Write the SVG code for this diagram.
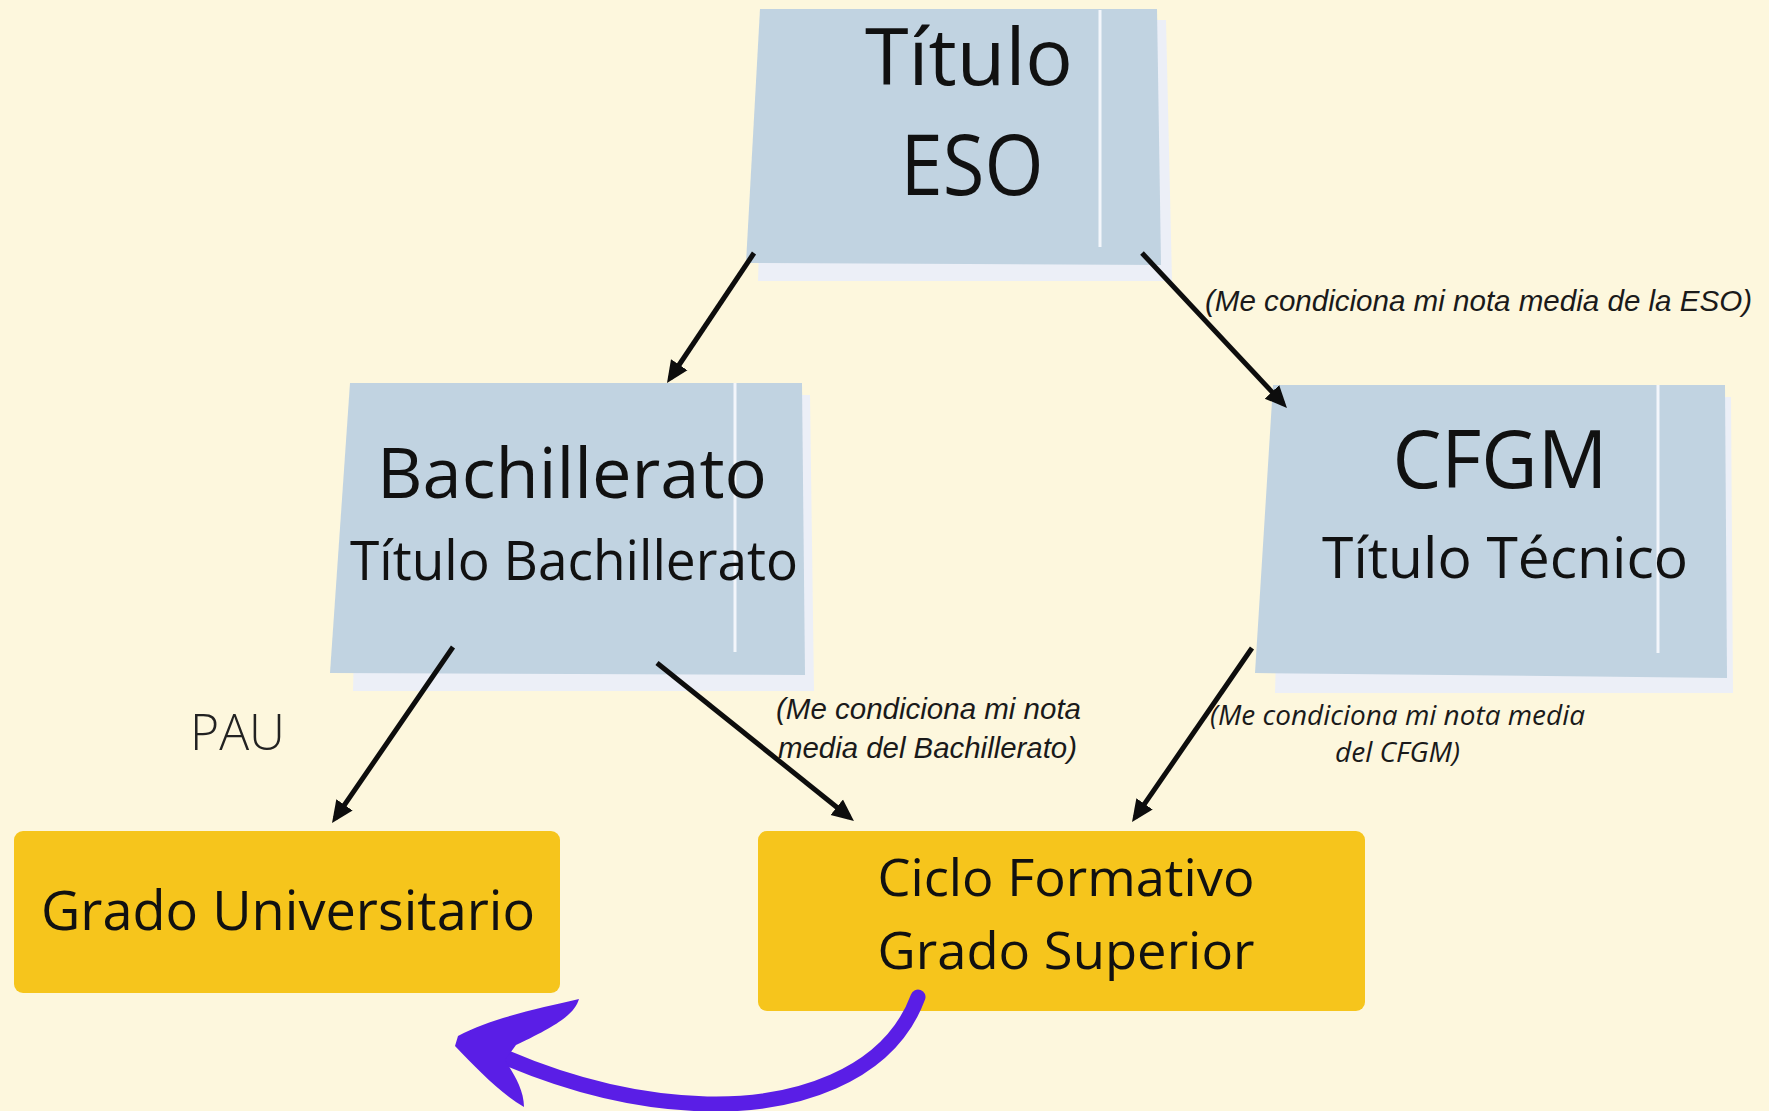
<svg xmlns="http://www.w3.org/2000/svg" width="1769" height="1111" viewBox="0 0 1769 1111">
  <defs>
    <marker id="ah" viewBox="0 0 10 10" refX="7.3" refY="5" markerWidth="22" markerHeight="22" markerUnits="userSpaceOnUse" orient="auto">
      <path d="M0,0.5 L10,5 L0,9.5 Z" fill="#0d0d0d"/>
    </marker>
    <style>
      .bg{fill:#fdf7dd}
      .blue{fill:#c1d3e1}
      .shadow{fill:#eceff7}
      .crease{stroke:#f3f6fb;stroke-width:3;fill:none}
      .yellow{fill:#f6c51c}
      .t{font-family:"Open Sans","Noto Sans",sans-serif;fill:#111;text-anchor:middle}
      .lbl{font-family:"Liberation Sans",Arial,sans-serif;font-style:italic;fill:#1a1a1a;font-size:29px}
      .lbl2{font-family:"Open Sans","Noto Sans",sans-serif;font-style:italic;fill:#1a1a1a;font-size:27px}
      .conn{stroke:#0d0d0d;stroke-width:5;fill:none;marker-end:url(#ah)}
      .purple{fill:#5a1ee6}
    </style>
  </defs>
  <rect class="bg" x="0" y="0" width="1769" height="1111"/>

  <g id="node-titulo-eso">
    <polygon class="shadow" points="766,20 1166,20 1172,281 758,281"/>
    <polygon class="blue" points="760,9 1157,9 1161,265 746,263"/>
    <line class="crease" x1="1100" y1="10" x2="1100" y2="247"/>
    <text class="t" x="969" y="85" font-size="79" textLength="208" lengthAdjust="spacingAndGlyphs">Título</text>
    <text class="t" x="972" y="195" font-size="84" textLength="143" lengthAdjust="spacingAndGlyphs">ESO</text>
  </g>

  <g id="node-bachillerato">
    <polygon class="shadow" points="360,395 810,395 814,691 353,691"/>
    <polygon class="blue" points="350,383 802,383 805,675 330,673"/>
    <line class="crease" x1="735" y1="383" x2="735" y2="652"/>
    <text class="t" x="572" y="498" font-size="70" textLength="390" lengthAdjust="spacingAndGlyphs">Bachillerato</text>
    <text class="t" x="574" y="580" font-size="54" textLength="448" lengthAdjust="spacingAndGlyphs">Título Bachillerato</text>
  </g>

  <g id="node-cfgm">
    <polygon class="shadow" points="1283,397 1731,397 1733,693 1275,693"/>
    <polygon class="blue" points="1273,385 1725,385 1727,678 1255,673"/>
    <line class="crease" x1="1658" y1="385" x2="1658" y2="653"/>
    <text class="t" x="1500" y="488" font-size="80" textLength="215" lengthAdjust="spacingAndGlyphs">CFGM</text>
    <text class="t" x="1505" y="578" font-size="57" textLength="366" lengthAdjust="spacingAndGlyphs">Título Técnico</text>
  </g>

  <g id="node-grado-universitario">
    <rect class="yellow" x="14" y="831" width="546" height="162" rx="9"/>
    <text class="t" x="288" y="930" font-size="54" textLength="494" lengthAdjust="spacingAndGlyphs">Grado Universitario</text>
  </g>

  <g id="node-ciclo-superior">
    <rect class="yellow" x="758" y="831" width="607" height="180" rx="9"/>
    <text class="t" x="1066" y="896" font-size="52" textLength="377" lengthAdjust="spacingAndGlyphs">Ciclo Formativo</text>
    <text class="t" x="1066" y="969" font-size="52" textLength="377" lengthAdjust="spacingAndGlyphs">Grado Superior</text>
  </g>

  <g id="connectors">
    <line class="conn" x1="754" y1="253" x2="670.3" y2="378"/>
    <line class="conn" x1="1142" y1="253" x2="1282.9" y2="403.6"/>
    <line class="conn" x1="453" y1="647" x2="335.4" y2="818.1"/>
    <line class="conn" x1="657" y1="663" x2="849.3" y2="817.2"/>
    <line class="conn" x1="1252" y1="648" x2="1135.4" y2="817.1"/>
    <g id="purple-arrow">
      <path d="M918,997 C888,1078 792,1106 707,1104 C625,1102 545,1077 478,1045" stroke="#5a1ee6" stroke-width="15" fill="none" stroke-linecap="round"/>
      <path class="purple" d="M458,1036 C492,1018 540,1008 579,999 C575,1012 563,1023 516,1045 L505,1060 C514,1074 524,1090 524,1107 C500,1093 476,1068 455,1046 Z"/>
    </g>
  </g>

  <g id="labels">
    <text class="lbl" x="1205" y="311" textLength="547" lengthAdjust="spacingAndGlyphs">(Me condiciona mi nota media de la ESO)</text>
    <text class="lbl" x="776" y="719" textLength="305" lengthAdjust="spacingAndGlyphs">(Me condiciona mi nota</text>
    <text class="lbl" x="778" y="758" textLength="299" lengthAdjust="spacingAndGlyphs">media del Bachillerato)</text>
    <text class="lbl2" x="1210" y="725" textLength="375" lengthAdjust="spacingAndGlyphs">(Me condiciona mi nota media</text>
    <text class="lbl2" x="1335" y="762" textLength="125" lengthAdjust="spacingAndGlyphs">del CFGM)</text>
    <text x="190" y="750" font-family="'Open Sans','Noto Sans',sans-serif" font-weight="300" font-size="50" fill="#222" textLength="95" lengthAdjust="spacingAndGlyphs">PAU</text>
  </g>
</svg>
